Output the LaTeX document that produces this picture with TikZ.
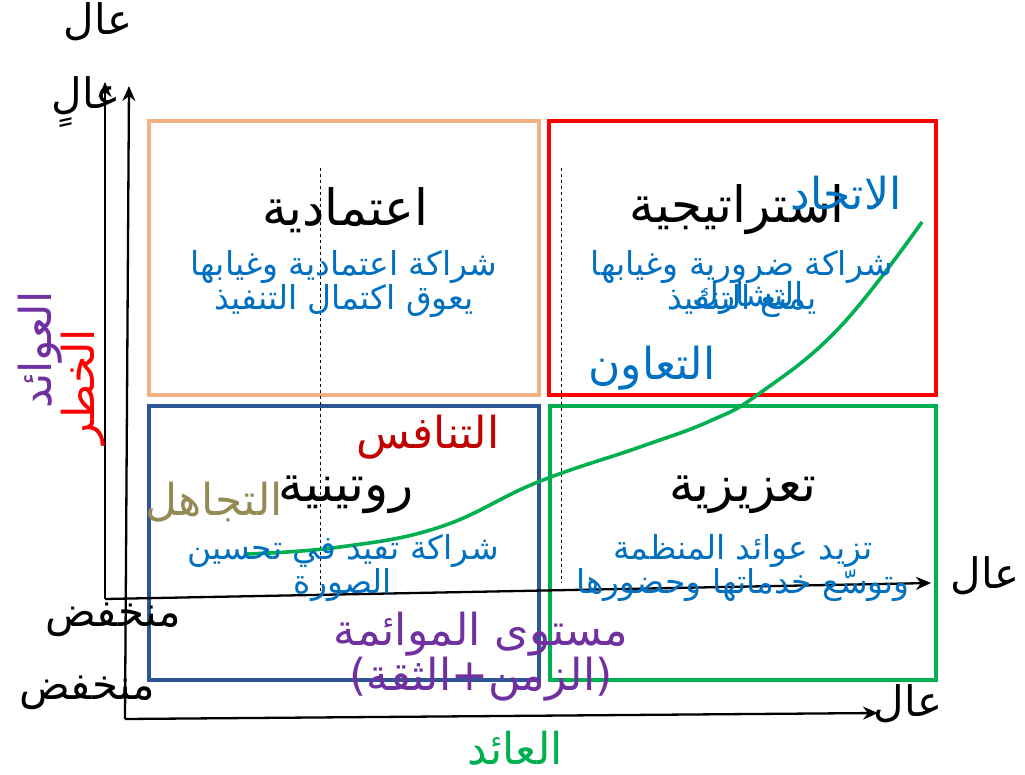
\documentclass[tikz,border=0pt]{standalone}
\usepackage{fontspec}
\usetikzlibrary{arrows.meta}
\TeXXeTstate=1
\newfontfamily\arfont[Script=Arabic]{DejaVu Sans}
\newfontfamily\latfont{DejaVu Sans}
\newcommand\artext[1]{\beginR #1\endR}
\definecolor{cOrange}{HTML}{F4B183}
\definecolor{cRed}{HTML}{FF0000}
\definecolor{cBlueBox}{HTML}{2F5597}
\definecolor{cGreen}{HTML}{00B050}
\definecolor{cBlue}{HTML}{0070C0}
\definecolor{cDarkRed}{HTML}{C00000}
\definecolor{cOlive}{HTML}{948A54}
\definecolor{cPurple}{HTML}{7030A0}
\tikzset{
  quad/.style={draw, line width=3.5pt, minimum width=#1, minimum height=274pt, inner sep=0pt},
  ttl/.style={font=\arfont\fontsize{50}{56}\selectfont, text=black, inner sep=0pt},
  desc/.style={font=\arfont\fontsize{33}{31}\selectfont, text=cBlue, align=center, inner sep=0pt},
  big/.style={font=\arfont\fontsize{44}{41}\selectfont, inner sep=0pt, align=center},
  axlbl/.style={font=\arfont\fontsize{42}{46}\selectfont, text=black, inner sep=0pt},
  axis/.style={line width=2.3pt, -{Stealth[length=15pt,width=13pt]}},
  guide/.style={dashed, line width=0.8pt},
  curve/.style={cGreen, line width=3.6pt}
}
\begin{document}
\begin{tikzpicture}[x=1pt,y=-1pt]
\useasboundingbox (0,0) rectangle (1025,775);
% quadrant boxes
\node[quad=390pt, draw=cOrange] (tl) at (344,258) {};
\node[quad=387pt, draw=cRed] (tr) at (742.5,258) {};
\node[quad=390pt, draw=cBlueBox] (bl) at (344,543) {};
\node[quad=386pt, draw=cGreen] (br) at (743,543) {};
% dashed guides
\coordinate (d1a) at (320,168); \coordinate (d1b) at (320,597);
\coordinate (d2a) at (561,168); \coordinate (d2b) at (561,583);
\draw[guide] (d1a) -- (d1b);
\draw[guide] (d2a) -- (d2b);
% axes
\coordinate (o1) at (105,599); \coordinate (y1) at (105,82); \coordinate (x1) at (931,583);
\coordinate (o2) at (125,719); \coordinate (y2) at (129,86); \coordinate (x2) at (878,713);
\draw[axis] (o1) -- (y1);
\draw[axis] (o1) -- (x1);
\draw[axis] (o2) -- (y2);
\draw[axis] (o2) -- (x2);
% curve
\draw[curve] plot[smooth, tension=0.7] coordinates {(247,554) (340,547) (440,527) (538,482) (640,447) (710,421) (760,393) (840,327) (922,222)};
% titles
\node[ttl] (t1) at (345,210) {\artext{اعتمادية}};
\node[ttl] (t2) at (737,210) {\artext{استراتيجية}};
\node[ttl] (t3) at (346,495) {\artext{روتينية}};
\node[ttl] (t4) at (743,495) {\artext{تعزيزية}};
% descriptions
\node[desc] (s1) at (344,284) {\artext{شراكة اعتمادية وغيابها}\\\artext{يعوق اكتمال التنفيذ}};
\node[desc] (s2) at (742,284) {\artext{شراكة ضرورية وغيابها}\\\artext{يمنع التنفيذ}};
\node[desc] (s2b) at (748,298) {\artext{التشارك}};
\node[desc] (s3) at (343,568) {\artext{شراكة تفيد في تحسين}\\\artext{الصورة}};
\node[desc] (s4) at (743,568) {\artext{تزيد عوائد المنظمة}\\\artext{وتوسّع خدماتها وحضورها}};
% relation labels
\node[big, text=cBlue] (l1) at (846,193) {\artext{الاتحاد}};
\node[big, text=cBlue] (l2) at (652,368) {\artext{التعاون}};
\node[big, text=cDarkRed] (l3) at (428,437) {\artext{التنافس}};
\node[big, text=cOlive] (l4) at (214,502) {\artext{التجاهل}};
\node[big, text=cPurple] (l5) at (481,657) {\artext{مستوى الموائمة}\\{\latfont(}\mbox{الثقة}{\latfont+}\mbox{الزمن}{\latfont)}};
\node[big, text=cGreen] (l6) at (515,748) {\artext{العائد}};
\node[big, text=cPurple, rotate=90] (l7) at (40,350) {\artext{العوائد}};
\node[big, text=cRed, rotate=90] (l8) at (83,387) {\artext{الخطر}};
% axis labels
\node[axlbl] (a1) at (98,22) {\artext{عال}};
\node[axlbl] (a2) at (86,102) {\artext{عالٍ}};
\node[axlbl] (a3) at (985,576) {\artext{عال}};
\node[axlbl] (a4) at (908,704) {\artext{عال}};
\node[axlbl] (a5) at (113,620) {\artext{منخفض}};
\node[axlbl] (a6) at (87,693) {\artext{منخفض}};
\end{tikzpicture}
\end{document}
